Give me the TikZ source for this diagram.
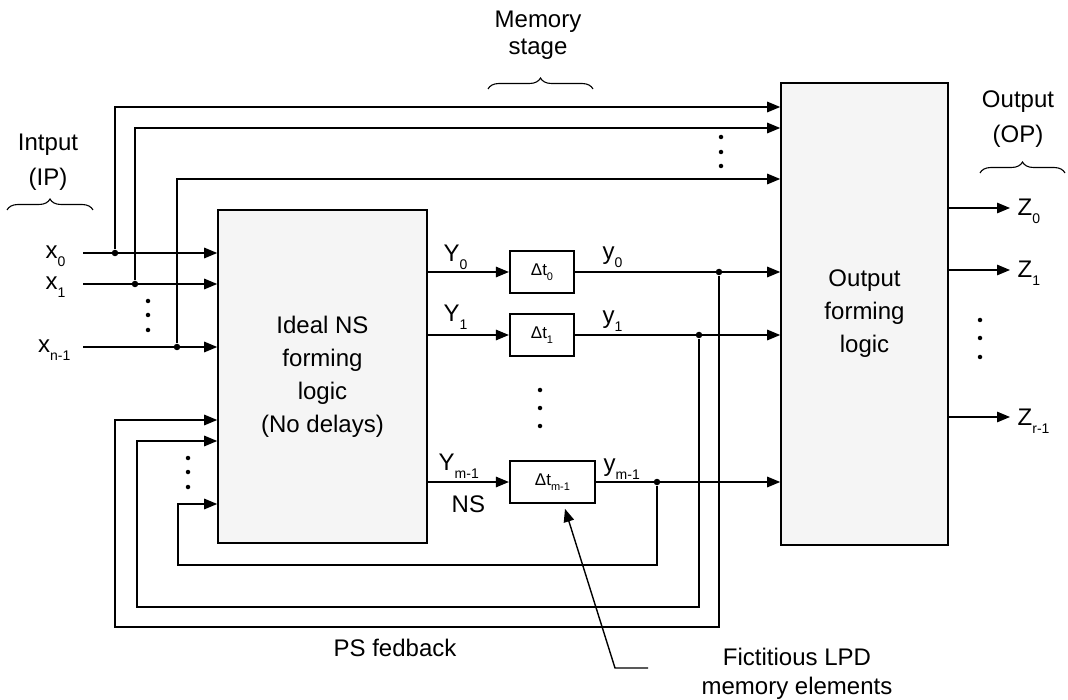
\documentclass[tikz,border=0pt]{standalone}
\usepackage{fontspec}
\setmainfont{Liberation Sans}
\usetikzlibrary{arrows.meta, positioning, decorations.pathreplacing}

% 下标：下沉的小号数字
\newcommand{\lo}[1]{\raisebox{-8pt}{\fontsize{14}{14}\selectfont #1}}
\newcommand{\dlo}[1]{\raisebox{-5pt}{\fontsize{11}{11}\selectfont #1}}

\begin{document}
\begin{tikzpicture}[x=1pt, y=-1pt, >={Triangle[length=13pt, width=10.5pt]}, line width=1.4pt,
    lbl/.style={inner sep=0pt, font=\fontsize{24}{33}\selectfont},
    block/.style={draw, line width=1.6pt, fill=black!4, inner sep=0pt, align=center,
        font=\fontsize{24}{33}\selectfont},
    delay/.style={draw, line width=2.2pt, fill=white, inner sep=0pt, minimum height=42pt,
        font=\fontsize{17}{17}\selectfont},
    tap/.style={circle, fill, inner sep=0pt, minimum size=6.5pt},
    pt/.style={circle, fill, inner sep=0pt, minimum size=4.5pt},
    brc/.style={decorate, decoration={brace, amplitude=11pt}, line width=1.1pt}]

    \useasboundingbox (0,0) rectangle (1068,700);

    % 行坐标，方便统一调整
    \def\yA{107}     % x_0 旁路
    \def\yB{128}     % x_1 旁路
    \def\yC{179}     % x_{n-1} 旁路

    % 1. 两个逻辑方块
    \node[block, minimum width=209pt, minimum height=333pt] (nsl) at (322.5,376.5)
        {Ideal NS\\forming\\logic\\(No delays)};
    \node[block, minimum width=167pt, minimum height=462pt] (ofl) at (864.5,314)
        {Output\\forming\\logic};

    % 2. 延迟元件
    \node[delay, minimum width=64pt] (d0) at (542,272) {Δt\dlo{0}};
    \node[delay, minimum width=64pt] (d1) at (542,335) {Δt\dlo{1}};
    \node[delay, minimum width=85pt] (dm) at (552.5,482) {Δt\dlo{m-1}};

    % 3. 输入 x_0 ... x_{n-1}
    \coordinate (i0) at (83,253);
    \coordinate (i1) at (83,284);
    \coordinate (in) at (83,347);
    \node[lbl, anchor=base east] (lx0) at (66,259) {x\lo{0}};
    \node[lbl, anchor=base east] (lx1) at (66,290) {x\lo{1}};
    \node[lbl, anchor=base east] (lxn) at (71,353) {x\lo{n-1}};
    \draw[->] (i0) -- (i0 -| nsl.west);
    \draw[->] (i1) -- (i1 -| nsl.west);
    \draw[->] (in) -- (in -| nsl.west);
    \node[tap] (t0) at (115,253) {};
    \node[tap] (t1) at (135,284) {};
    \node[tap] (tn) at (177,347) {};
    \draw[->] (t0) |- (ofl.west |- 0,\yA);
    \draw[->] (t1) |- (ofl.west |- 0,\yB);
    \draw[->] (tn) |- (ofl.west |- 0,\yC);
    \foreach \y in {301,315,330} \node[pt] at (148,\y) {};
    \foreach \y in {137,152,166} \node[pt] at (721,\y) {};

    % 4. 次态 Y 与现态 y
    \draw[->] (nsl.east |- d0) -- (d0.west);
    \draw[->] (nsl.east |- d1) -- (d1.west);
    \draw[->] (nsl.east |- dm) -- (dm.west);
    \draw[->] (d0.east) -- (d0.east -| ofl.west);
    \draw[->] (d1.east) -- (d1.east -| ofl.west);
    \draw[->] (dm.east) -- (dm.east -| ofl.west);
    \foreach \y in {390,408,426} \node[pt] at (540,\y) {};
    \node[lbl, anchor=base west] (lY0) at (443,262) {Y\lo{0}};
    \node[lbl, anchor=base west] (lY1) at (443,322) {Y\lo{1}};
    \node[lbl, anchor=base west] (lYm) at (438,470) {Y\lo{m-1}};
    \node[lbl, anchor=base west] (lns) at (451,512) {NS};
    \node[lbl, anchor=base west] (ly0) at (602,260) {y\lo{0}};
    \node[lbl, anchor=base west] (ly1) at (602,324) {y\lo{1}};
    \node[lbl, anchor=base west] (lym) at (603,471) {y\lo{m-1}};

    % 5. 现态反馈 (PS)
    \node[tap] (f0) at (719,272) {};
    \node[tap] (f1) at (699,335) {};
    \node[tap] (fm) at (657,482) {};
    \draw[->] (f0) |- (115,627) |- (nsl.west |- 0,420);
    \draw[->] (f1) |- (137,607) |- (nsl.west |- 0,441);
    \draw[->] (fm) |- (178,565) |- (nsl.west |- 0,504);
    \foreach \y in {458,472,487} \node[pt] at (188,\y) {};
    \node[lbl] (ps) at (395,648) {PS fedback};

    % 6. 输出 Z
    \coordinate (z0) at (1010,208);
    \coordinate (z1) at (1010,270);
    \coordinate (zr) at (1010,417);
    \draw[->] (ofl.east |- z0) -- (z0);
    \draw[->] (ofl.east |- z1) -- (z1);
    \draw[->] (ofl.east |- zr) -- (zr);
    \node[lbl, anchor=base west] (lz0) at (1017,216) {Z\lo{0}};
    \node[lbl, anchor=base west] (lz1) at (1017,278) {Z\lo{1}};
    \node[lbl, anchor=base west] (lzr) at (1017,425) {Z\lo{r-1}};
    \foreach \y in {320,338,357} \node[pt] at (980,\y) {};

    % 7. 花括号与说明文字
    \draw[brc] (7,210) -- (93,210);
    \draw[brc] (488,89) -- (593,89);
    \draw[brc] (980,173) -- (1065,173);
    \node[lbl, align=center, font=\fontsize{24}{35}\selectfont] (ip) at (48,162) {Intput\\(IP)};
    \node[lbl, align=center, font=\fontsize{24}{27}\selectfont] (ms) at (538,35) {Memory\\stage};
    \node[lbl, align=center, font=\fontsize{24}{35}\selectfont] (op) at (1018,119) {Output\\(OP)};

    % 8. 指向延迟元件的说明
    \node[lbl, align=center, font=\fontsize{24}{29}\selectfont] (fict) at (797,674)
        {Fictitious LPD\\memory elements};
    \coordinate (fe) at (648,668);
    \draw[->, shorten >=5pt] (fe) -- ++(-33,0) -- ([xshift=11pt]dm.south);

\end{tikzpicture}
\end{document}
